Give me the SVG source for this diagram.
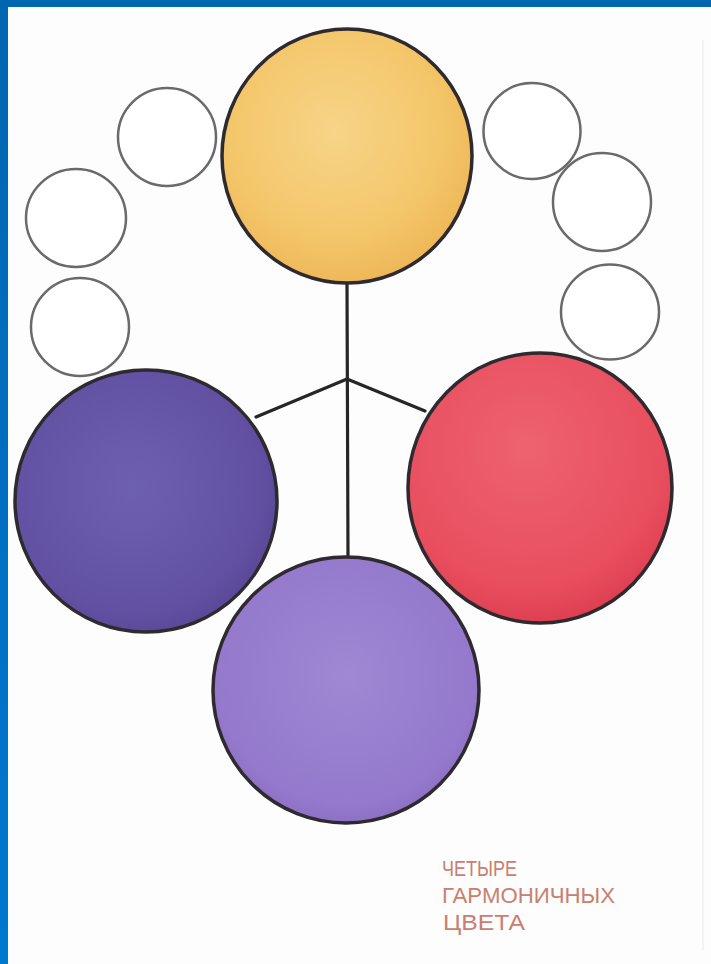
<svg xmlns="http://www.w3.org/2000/svg" width="711" height="964" viewBox="0 0 711 964">
  <style>
    .small { fill: #ffffff; stroke: #6a6a6a; stroke-width: 2.5; }
    .big { stroke: #2e2a30; stroke-width: 3.5; }
    .conn { stroke: #262626; stroke-width: 3.2; fill: none; stroke-linecap: round; }
    .label { font-family: "Liberation Sans", "DejaVu Sans", sans-serif; font-size: 22px; fill: #c9806f; }
  </style>
  <defs>
    <radialGradient id="gYellow" cx="45%" cy="40%" r="60%">
      <stop offset="0" stop-color="#f7d488"/>
      <stop offset="0.7" stop-color="#f4c66a"/>
      <stop offset="1" stop-color="#eeb858"/>
    </radialGradient>
    <radialGradient id="gViolet" cx="45%" cy="45%" r="60%">
      <stop offset="0" stop-color="#6e60b0"/>
      <stop offset="0.8" stop-color="#6251a2"/>
      <stop offset="1" stop-color="#574594"/>
    </radialGradient>
    <radialGradient id="gRed" cx="45%" cy="35%" r="65%">
      <stop offset="0" stop-color="#ee6270"/>
      <stop offset="0.8" stop-color="#e84e5e"/>
      <stop offset="1" stop-color="#de4052"/>
    </radialGradient>
    <radialGradient id="gLilac" cx="50%" cy="45%" r="60%">
      <stop offset="0" stop-color="#a088d4"/>
      <stop offset="0.8" stop-color="#9479cc"/>
      <stop offset="1" stop-color="#866ac0"/>
    </radialGradient>
    <linearGradient id="gLeft" x1="0" y1="0" x2="0" y2="1">
      <stop offset="0" stop-color="#0066b2"/>
      <stop offset="1" stop-color="#0078d0"/>
    </linearGradient>
  </defs>

  <rect x="0" y="0" width="711" height="964" fill="#fdfdfd"/>
  <line x1="703" y1="40" x2="703" y2="950" stroke="#eeeeee" stroke-width="1.5"/>
  <rect x="0" y="0" width="711" height="7" fill="#0066b0"/>
  <rect x="0" y="0" width="8" height="964" fill="url(#gLeft)"/>

  <g id="connectors">
    <line class="conn" x1="347" y1="284" x2="348" y2="557"/>
    <polyline class="conn" points="256,417 347,379 425,411"/>
  </g>

  <g id="yellow">
    <ellipse class="big" cx="347" cy="156" rx="125" ry="127" fill="url(#gYellow)" stroke="#4a4a4a" stroke-width="2.5"/>
  </g>
  <g id="violet">
    <circle class="big" cx="146" cy="501" r="131" fill="url(#gViolet)"/>
  </g>
  <g id="red">
    <ellipse class="big" cx="540" cy="488" rx="132" ry="135" fill="url(#gRed)"/>
  </g>
  <g id="lilac">
    <circle class="big" cx="346" cy="690" r="133" fill="url(#gLilac)"/>
  </g>

  <g id="small-left-1"><circle class="small" cx="167" cy="137" r="49"/></g>
  <g id="small-left-2"><ellipse class="small" cx="76" cy="218" rx="50" ry="49" stroke="#555" stroke-width="3"/></g>
  <g id="small-left-3"><circle class="small" cx="80" cy="327" r="49"/></g>
  <g id="small-right-1"><ellipse class="small" cx="532" cy="131" rx="48.5" ry="48"/></g>
  <g id="small-right-2"><ellipse class="small" cx="602" cy="202" rx="49" ry="49" stroke="#888"/></g>
  <g id="small-right-3"><ellipse class="small" cx="610" cy="312" rx="49" ry="47.5"/></g>

  <g id="caption">
    <text class="label" x="442" y="876" textLength="75" lengthAdjust="spacingAndGlyphs">ЧЕТЫРЕ</text>
    <text class="label" x="442" y="903" textLength="173" lengthAdjust="spacingAndGlyphs">ГАРМОНИЧНЫХ</text>
    <text class="label" x="443" y="930" textLength="82" lengthAdjust="spacingAndGlyphs">ЦВЕТА</text>
  </g>
</svg>
